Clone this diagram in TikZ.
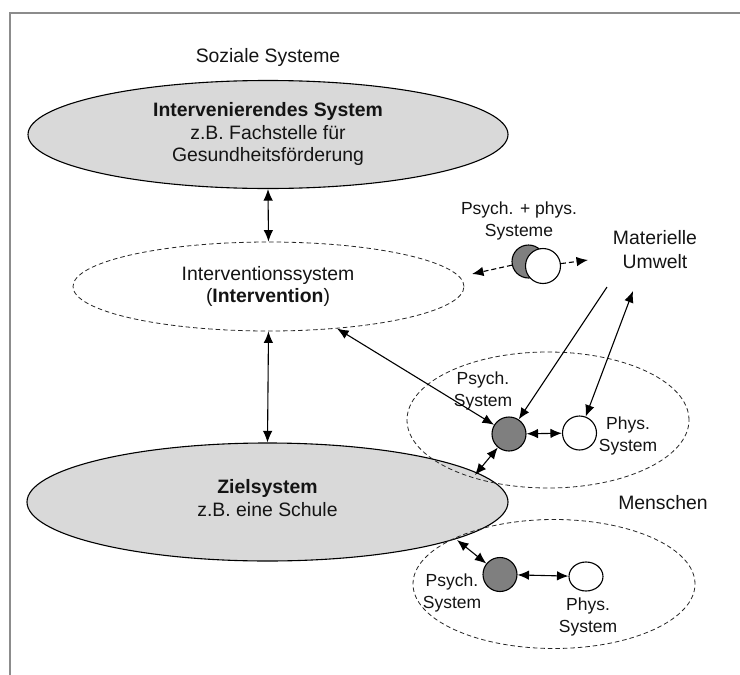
\documentclass[tikz,border=0pt]{standalone}
\usepackage{fontspec}
\setmainfont{Liberation Sans}
\usetikzlibrary{shapes.geometric,arrows.meta}
\definecolor{ellgray}{HTML}{D9D9D9}
\definecolor{psygray}{HTML}{7F7F7F}
\definecolor{framegray}{HTML}{8C8C8C}
\definecolor{txt}{HTML}{141414}
\begin{document}
\begin{tikzpicture}[x=1pt,y=-1pt,
  big/.style={font=\fontsize{19.4}{22.5}\selectfont, align=center, inner sep=0pt, text=txt},
  small/.style={font=\fontsize{17.5}{22}\selectfont, align=center, inner sep=0pt, text=txt},
  sysell/.style={ellipse, draw=black, line width=1.1pt, fill=ellgray, inner sep=0pt},
  dell/.style={ellipse, draw=black!85, line width=0.8pt, dash pattern=on 4.5pt off 3pt, inner sep=0pt},
  psy/.style={circle, draw=black, line width=1.1pt, fill=psygray, minimum size=34pt, inner sep=0pt},
  phy/.style={circle, draw=black, line width=1.1pt, fill=white, minimum size=34pt, inner sep=0pt},
  tip/.tip={Latex[length=11.5pt,width=9.5pt]},
  conn/.style={line width=1.1pt, tip-tip},
  oneway/.style={line width=1.1pt, -tip},
  dconn/.style={line width=1.1pt, dash pattern=on 5pt off 3pt, -tip}
]
\useasboundingbox (0,0) rectangle (740,675);
\fill[white] (0,0) rectangle (740,675);
% frame
\draw[framegray, line width=2pt] (10,675) -- (10,13) -- (740,13);

% title
\node[big] (soz) at (268,57) {Soziale Systeme};

% big ellipses
\node[sysell, minimum width=480pt, minimum height=108pt] (top) at (268,134.5) {};
\node[big] (toptext) at (268,134) {\textbf{Intervenierendes System}\\z.B. Fachstelle für\\Gesundheitsförderung};

\node[dell, minimum width=391pt, minimum height=89pt] (interv) at (268.5,286.5) {};
\node[big] (intervtext) at (268,286.5) {Interventionssystem\\(\textbf{Intervention})};

\node[sysell, minimum width=481pt, minimum height=118pt] (ziel) at (267.5,502) {};
\node[big] (zieltext) at (267.5,498) {\textbf{Zielsystem}\\z.B. eine Schule};

% Menschen ellipses
\node[dell, minimum width=282pt, minimum height=136pt] (mens1) at (548,420) {};
\node[dell, minimum width=282pt, minimum height=129pt] (mens2) at (554,584) {};

% psych + phys icon
\node[small] (pptext) at (519,221) {Psych. + phys.\\Systeme};
\node[psy, minimum size=33pt] (gray0) at (528.5,261.5) {};
\node[phy, minimum size=35pt] (white0) at (543,266) {};

% Materielle Umwelt
\node[big, font=\fontsize{19.4}{24}\selectfont] (mat) at (655,250) {Materielle\\Umwelt};

% upper people
\node[psy] (psych1) at (509,434) {};
\node[phy] (phys1) at (579.5,433) {};
\node[small] (psl1) at (483,391) {Psych.\\System};
\node[small] (phl1) at (628,435.5) {Phys.\\System};

% Menschen label
\node[big] (menschen) at (663,503) {Menschen};

% lower people
\node[psy] (psych2) at (500,574.5) {};
\node[ellipse, draw=black, line width=1.1pt, fill=white, minimum width=34pt, minimum height=29pt, inner sep=0pt] (phys2) at (586,576.5) {};
\node[small] (psl2) at (452,592.5) {Psych.\\System};
\node[small] (phl2) at (588,616.5) {Phys.\\System};

% free ends
\coordinate (da1) at (472,274);
\coordinate (da2) at (588,260);
\coordinate (m1) at (607,287);
\coordinate (m2) at (633,291);
\coordinate (z1) at (475,475);
\coordinate (z2) at (457,540);

% connectors
\draw[conn] (top.south) -- (interv.north);
\draw[conn] (interv.south) -- (ziel.north);
\draw[conn] (interv) -- (psych1);
\draw[conn] (psych1) -- (z1);
\draw[conn] (psych1) -- (phys1);
\draw[oneway] (m1) -- (psych1);
\draw[conn] (phys1) -- (m2);
\draw[dconn] (gray0) -- (da1);
\draw[dconn] (white0) -- (da2);
\draw[conn] (psych2) -- (z2);
\draw[conn] (psych2) -- (phys2);
\end{tikzpicture}
\end{document}
